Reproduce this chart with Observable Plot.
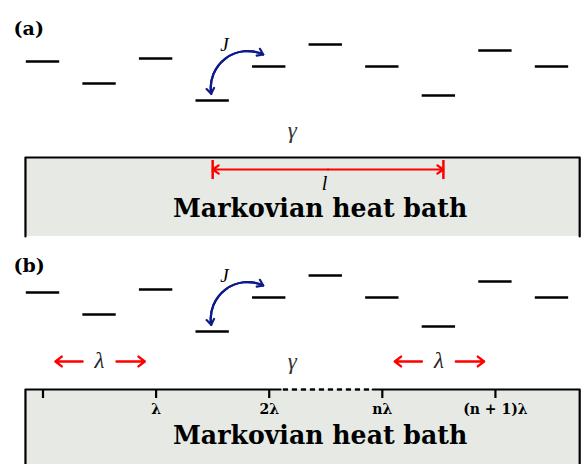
<!DOCTYPE html>
<html><head><meta charset="utf-8">
<script src="https://cdn.jsdelivr.net/npm/d3@7"></script>
<script src="https://cdn.jsdelivr.net/npm/@observablehq/plot@0.6"></script>
<style>body{margin:0;background:#fff}</style>
</head><body><div id="chart"></div>
<script>
// ---- data ----
const sites = [0,1,2,3,4,5,6,7,8,9];            // lattice sites
const energies = [39,17,42,0,34,56,34,5,50,34];   // on-site energy (disorder)
const panels = ["(a)", "(b)"];
const panelBase = [100, 331];                     // baseline of each panel's level row
const tickSites = [0,2,4,6,8];
const tickLabels = ["", "λ", "2λ", "nλ", "(n + 1)λ"];
const lambdaCenters = [1, 7];
const hopFrom = 2.974, hopTo = 3.894;            // J hop between sites 3 and 4
const measure = [3, 7.08];                        // correlation length l (panel a)
const bathLabel = "Markovian heat bath";

const serif = "Liberation Serif";
const levels = panels.flatMap((p, k) => sites.map((s, i) => ({s, y: panelBase[k] - energies[i]})));
const bathTop = [157, 389], bathBottom = [236, 464];
const bx1 = -0.31, bx2 = 9.49;

const marks = [];
// bath fill
marks.push(Plot.rect([0, 1], {x1: bx1, x2: bx2, y1: k => bathTop[k], y2: k => bathBottom[k], fill: "#e6e9e4"}));
// bath borders (a)
marks.push(Plot.line([[bx1, bathBottom[0]], [bx1, bathTop[0]], [bx2, bathTop[0]], [bx2, bathBottom[0]]],
  {stroke: "black", strokeWidth: 2.2, strokeLinejoin: "round"}));
// bath borders (b)
const dashA = 4.2, dashB = 5.83;
marks.push(Plot.line([[dashA, bathTop[1]], [bx1, bathTop[1]], [bx1, bathBottom[1]]], {stroke: "black", strokeWidth: 2.2, strokeLinejoin: "round"}));
marks.push(Plot.line([[dashB, bathTop[1]], [bx2, bathTop[1]], [bx2, bathBottom[1]]], {stroke: "black", strokeWidth: 2.2, strokeLinejoin: "round"}));
const dashStep = 9 / 56.55, dashLen = 5.2 / 56.55;
const dashes = d3.range(dashA + 0.05, dashB - 0.02, dashStep);
marks.push(Plot.ruleY(dashes, {y: bathTop[1], x1: d => d, x2: d => Math.min(d + dashLen, dashB), stroke: "black", strokeWidth: 2.4}));
// ticks
marks.push(Plot.ruleX(tickSites, {x: d => d, y1: bathTop[1], y2: bathTop[1] + 9, stroke: "black", strokeWidth: 2.2}));
marks.push(Plot.text(tickSites, {x: d => d, y: bathTop[1] + 20, text: (d, i) => tickLabels[i], fontFamily: "DejaVu Serif", fontWeight: "bold", fontSize: 14, fill: "black"}));
// energy levels
marks.push(Plot.ruleY(levels, {y: "y", x1: d => d.s - 0.295, x2: d => d.s + 0.295, stroke: "black", strokeWidth: 2.5}));
// J arrows
[0, 1].forEach(k => {
  const off = panelBase[k] - panelBase[0];
  marks.push(Plot.arrow([0], {x1: hopFrom, y1: 93.3 + off, x2: hopTo, y2: 54 + off, bend: 62, stroke: "#0d1a8c", strokeWidth: 2.2, headLength: 4.5, headAngle: 70}));
  marks.push(Plot.arrow([0], {x1: hopTo, y1: 54 + off, x2: hopFrom, y2: 93.3 + off, bend: -62, stroke: "#0d1a8c", strokeWidth: 2.2, headLength: 4.5, headAngle: 70}));
});
marks.push(Plot.text([0, 1], {x: 3.21, y: k => 44 + panelBase[k] - panelBase[0], text: () => "J", fontFamily: serif, fontStyle: "italic", fontSize: 19, fill: "black"}));
// gamma
marks.push(Plot.text([0, 1], {x: 4.41, y: k => 130 + panelBase[k] - panelBase[0], text: () => "γ", fontFamily: serif, fontStyle: "italic", fontSize: 23, fill: "#333"}));
// panel labels
marks.push(Plot.text(panels, {x: -0.52, y: (d, k) => [28, 265][k], text: d => d, textAnchor: "start", fontFamily: "DejaVu Serif", fontWeight: "bold", fontSize: 19, fill: "black"}));
// measure l (a)
const mid = (measure[0] + measure[1]) / 2;
marks.push(Plot.ruleX(measure, {x: d => d, y1: 160, y2: 179, stroke: "red", strokeWidth: 2.5}));
marks.push(Plot.arrow(measure, {x1: mid, x2: d => d, y1: 169, y2: 169, stroke: "red", strokeWidth: 2.2, headLength: 5, headAngle: 70}));
marks.push(Plot.text([0], {x: mid - 0.06, y: 183, text: () => "l", fontFamily: serif, fontStyle: "italic", fontSize: 20, fill: "black"}));
// lambda arrows (b)
const lam = lambdaCenters.flatMap(c => [{c, a: c - 0.3, b: c - 0.78}, {c, a: c + 0.3, b: c + 0.8}]);
marks.push(Plot.arrow(lam, {x1: "a", x2: "b", y1: 361, y2: 361, stroke: "red", strokeWidth: 2.4, headLength: 5, headAngle: 75}));
marks.push(Plot.text(lambdaCenters, {x: d => d, y: 360, text: () => "λ", fontFamily: serif, fontStyle: "italic", fontSize: 23, fill: "#222"}));
// bath label
marks.push(Plot.text([0, 1], {x: 4.90, y: k => [208, 435][k], text: () => bathLabel, fontFamily: "DejaVu Serif", fontWeight: "bold", fontSize: 25.2, fill: "black"}));

const chart = Plot.plot({
  width: 584, height: 464, margin: 0,
  x: {domain: [-0.7515, 9.575], axis: null},
  y: {domain: [0, 464], range: [0, 464], axis: null},
  style: {background: "white", overflow: "visible"},
  marks
});
document.getElementById("chart").append(chart);
</script>
</body></html>
